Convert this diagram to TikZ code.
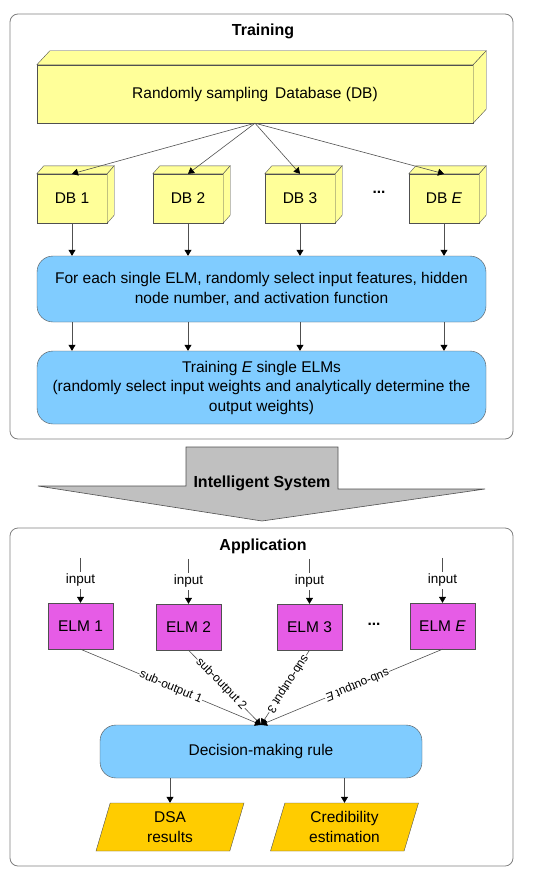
\documentclass[tikz,border=0pt]{standalone}
\usepackage{fontspec}
\setmainfont{Liberation Sans}
\usetikzlibrary{shapes.geometric,calc,arrows.meta,positioning}

\definecolor{dbyellow}{RGB}{255,255,153}
\definecolor{elmblue}{RGB}{128,204,255}
\definecolor{elmpink}{RGB}{230,92,230}
\definecolor{outgold}{RGB}{255,204,0}
\definecolor{edgegray}{RGB}{80,80,80}
\definecolor{bigarrow}{RGB}{192,192,192}

\tikzset{
  frame/.style={draw=gray, rounded corners=8pt, line width=0.8pt},
  db/.style={draw=edgegray, fill=dbyellow, inner sep=0pt},
  proc/.style={draw=edgegray, fill=elmblue, rounded corners=16pt, align=center, inner sep=0pt, minimum width=449pt},
  elm/.style={draw=edgegray, fill=elmpink, inner sep=0pt, minimum width=65pt, minimum height=46pt},
  result/.style={draw=edgegray, fill=outgold, trapezium, trapezium left angle=65, trapezium right angle=115,
    trapezium stretches body=true, minimum width=148pt, minimum height=48pt, inner sep=0pt, align=center},
  arr/.style={draw=edgegray, line width=0.6pt, -{Triangle[length=6pt,width=7pt,color=black]}},
  lbl/.style={fill=white, inner sep=0.5pt, font=\fontsize{12}{14}\selectfont},
  title/.style={font=\fontsize{16}{19}\bfseries},
}

\begin{document}
\begin{tikzpicture}[x=1pt,y=-1pt, every node/.style={font=\fontsize{15.5}{19.5}\selectfont}]
    \useasboundingbox (0,0) rectangle (550,875);
    % training part
    \draw[frame] (10,14) rectangle (513,439);
    \node[title] (train) at (263,31) {Training};
    \node[db, minimum width=436pt, minimum height=58pt] (db) at (255,94) {Randomly sampling\, Database (DB)};
    \draw[db] (db.north west) -- ++(13,-14) -- ($(db.north east)+(13,-14)$) -- (db.north east) -- cycle;
    \draw[db] (db.north east) -- ++(13,-14) -- ($(db.south east)+(13,-14)$) -- (db.south east) -- cycle;
    \node[db, minimum width=70pt, minimum height=49pt] (db1) at (72,198.5) {DB 1};
    \node[db, minimum width=70pt, minimum height=49pt] (db2) at (188,198.5) {DB 2};
    \node[db, minimum width=70pt, minimum height=49pt] (db3) at (300,198.5) {DB 3};
    \node[db, minimum width=70pt, minimum height=49pt] (dbE) at (444,198.5) {DB \textit{E}};
    \node (dots1) at (379,192) {\textbf{...}};
    \foreach \n in {db1,db2,db3,dbE} {
        \draw[db] (\n.north west) -- ++(7,-8) -- ($(\n.north east)+(7,-8)$) -- (\n.north east) -- cycle;
        \draw[db] (\n.north east) -- ++(7,-8) -- ($(\n.south east)+(7,-8)$) -- (\n.south east) -- cycle;
        \draw[arr] (db.south) -- (\n.north);
    }
    \node[proc, minimum height=66pt] (select) at (261.5,289) {For each single ELM, randomly select input features, hidden\\node number, and activation function};
    \node[proc, minimum height=73pt] (trainE) at (261.5,387.5) {Training \textit{E} single ELMs\\(randomly select input weights and analytically determine the\\output weights)};
    \foreach \n in {db1,db2,db3,dbE} {
        \draw[arr] (\n.south) -- (\n.south |- select.north);
        \draw[arr] (\n.south |- select.south) -- (\n.south |- trainE.north);
    }
    % big arrow
    \draw[edgegray, fill=bigarrow, line width=0.6pt] (186,447) -- (338,447) -- (338,489) -- (485,489) -- (262,521) -- (38,486) -- (186,486) -- cycle;
    \node[title] (sys) at (262,483) {Intelligent System};
    % application part
    \draw[frame] (10,528) rectangle (513,866);
    \node[title] (app) at (263,546) {Application};
    \node[elm] (elm1) at (80.5,626) {ELM 1};
    \node[elm] (elm2) at (188.5,627) {ELM 2};
    \node[elm] (elm3) at (309.5,627) {ELM 3};
    \node[elm] (elmE) at (442.5,626) {ELM \textit{E}};
    \node (dots2) at (374,624) {\textbf{...}};
    \foreach \n in {1,2,3,E} {
        \coordinate (in\n) at ($(elm\n.north)+(0,-45)$);
        \draw[arr] (in\n) -- node[lbl, font=\fontsize{13.5}{16}\selectfont, inner sep=2pt] {input} (elm\n.north);
    }
    \node[proc, minimum width=322pt, minimum height=53pt] (rule) at (261,751.5) {Decision-making rule};
    \draw[arr] (elm1.south) -- node[lbl, sloped, allow upside down, pos=0.5] {sub-output 1} (rule.north);
    \draw[arr] (elm2.south) -- node[lbl, sloped, allow upside down, pos=0.45] {sub-output 2} (rule.north);
    \draw[arr] (elm3.south) -- node[lbl, sloped, allow upside down, pos=0.45] {sub-output 3} (rule.north);
    \draw[arr] (elmE.south) -- node[lbl, sloped, allow upside down, pos=0.47] {sub-output \textit{E}} (rule.north);
    \node[result] (dsa) at (170,827) {DSA\\results};
    \node[result] (cred) at (344.5,827) {Credibility\\estimation};
    \draw[arr] (dsa.north |- rule.south) -- (dsa.north);
    \draw[arr] (cred.north |- rule.south) -- (cred.north);
\end{tikzpicture}
\end{document}
